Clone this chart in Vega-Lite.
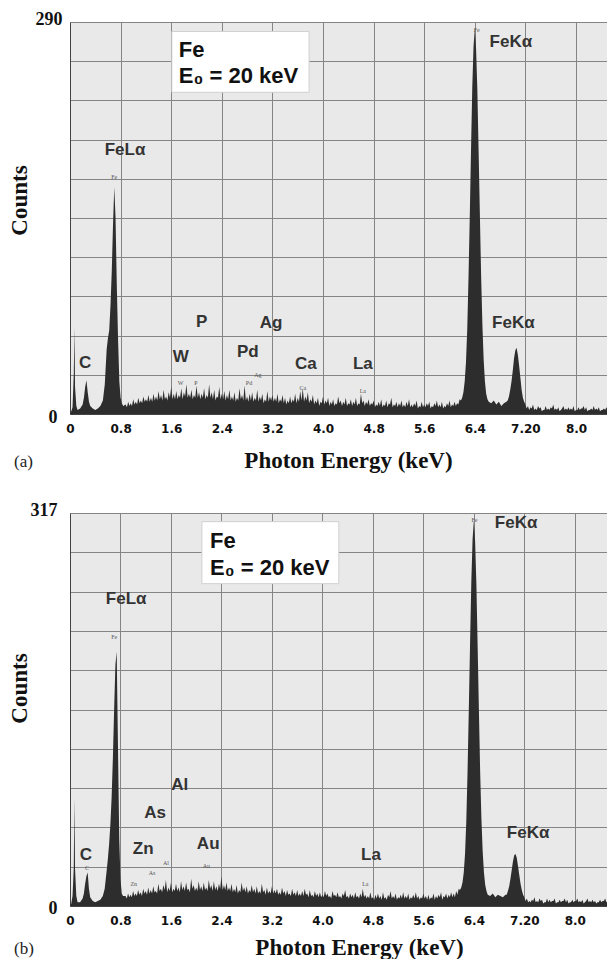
{
"$schema": "https://vega.github.io/schema/vega-lite/v6.json",
"padding": {"left": 8, "top": 10, "right": 0, "bottom": 0},
"bounds": "flush",
"spacing": 99,
"config": {"view": {"stroke": null, "fill": "#e9e9e9"}},
"datasets": {
"spec": [
{"e":0,"a":0,"b":0},{"e":0.02,"a":2,"b":2},{"e":0.04,"a":5,"b":8},{"e":0.06,"a":30,"b":31},{"e":0.07,"a":64,"b":87},{"e":0.08,"a":20,"b":30},{"e":0.10,"a":6,"b":8},{"e":0.12,"a":3,"b":3},{"e":0.16,"a":4,"b":3},{"e":0.20,"a":7,"b":6},{"e":0.22,"a":12,"b":10},{"e":0.24,"a":20,"b":18},{"e":0.26,"a":25,"b":24},{"e":0.28,"a":16,"b":27},{"e":0.30,"a":9,"b":14},{"e":0.32,"a":6,"b":7},{"e":0.36,"a":4,"b":4},{"e":0.40,"a":3,"b":3},{"e":0.44,"a":4,"b":4},{"e":0.48,"a":6,"b":5},{"e":0.52,"a":10,"b":8},{"e":0.55,"a":22,"b":14},{"e":0.58,"a":48,"b":28},{"e":0.60,"a":56,"b":38},{"e":0.62,"a":62,"b":50},{"e":0.64,"a":80,"b":66},{"e":0.66,"a":105,"b":88},{"e":0.68,"a":140,"b":120},{"e":0.70,"a":168,"b":160},{"e":0.72,"a":145,"b":195},{"e":0.74,"a":95,"b":205},{"e":0.76,"a":55,"b":130},{"e":0.78,"a":24,"b":55},{"e":0.80,"a":12,"b":22},{"e":0.82,"a":8,"b":10},{"e":0.84,"a":6,"b":8},
{"e":0.88,"a":7,"b":8},{"e":0.92,"a":9,"b":10},{"e":0.96,"a":8,"b":9},{"e":1.00,"a":11,"b":12},{"e":1.04,"a":9,"b":10},{"e":1.08,"a":12,"b":13},{"e":1.12,"a":10,"b":11},{"e":1.16,"a":13,"b":14},{"e":1.20,"a":11,"b":12},{"e":1.24,"a":14,"b":15},
{"e":1.28,"a":12,"b":13},{"e":1.32,"a":15,"b":16},{"e":1.36,"a":13,"b":12},{"e":1.40,"a":17,"b":18},{"e":1.44,"a":14,"b":14},{"e":1.48,"a":18,"b":17},{"e":1.52,"a":13,"b":21},{"e":1.56,"a":16,"b":15},{"e":1.60,"a":20,"b":19},{"e":1.64,"a":15,"b":14},
{"e":1.68,"a":17,"b":18},{"e":1.72,"a":14,"b":15},{"e":1.76,"a":19,"b":20},{"e":1.80,"a":16,"b":16},{"e":1.84,"a":22,"b":19},{"e":1.88,"a":15,"b":14},{"e":1.92,"a":18,"b":22},{"e":1.96,"a":14,"b":17},{"e":2.00,"a":21,"b":15},{"e":2.04,"a":16,"b":20},
{"e":2.08,"a":15,"b":16},{"e":2.12,"a":19,"b":19},{"e":2.16,"a":14,"b":15},{"e":2.20,"a":22,"b":21},{"e":2.24,"a":16,"b":17},{"e":2.28,"a":18,"b":20},{"e":2.32,"a":13,"b":16},{"e":2.36,"a":20,"b":18},{"e":2.40,"a":15,"b":24},{"e":2.44,"a":17,"b":17},
{"e":2.48,"a":14,"b":19},{"e":2.52,"a":18,"b":15},{"e":2.56,"a":13,"b":18},{"e":2.60,"a":16,"b":14},{"e":2.64,"a":12,"b":17},{"e":2.68,"a":19,"b":13},{"e":2.72,"a":14,"b":19},{"e":2.76,"a":21,"b":15},{"e":2.80,"a":13,"b":16},{"e":2.84,"a":15,"b":13},
{"e":2.88,"a":16,"b":17},{"e":2.92,"a":12,"b":14},{"e":2.96,"a":18,"b":16},{"e":3.00,"a":13,"b":12},{"e":3.04,"a":15,"b":18},{"e":3.08,"a":11,"b":13},{"e":3.12,"a":17,"b":15},{"e":3.16,"a":13,"b":12},{"e":3.20,"a":14,"b":16},{"e":3.24,"a":12,"b":13},
{"e":3.28,"a":15,"b":14},{"e":3.32,"a":11,"b":11},{"e":3.36,"a":14,"b":15},{"e":3.40,"a":12,"b":12},{"e":3.44,"a":10,"b":13},{"e":3.48,"a":13,"b":10},{"e":3.52,"a":11,"b":14},{"e":3.56,"a":15,"b":11},{"e":3.60,"a":12,"b":13},{"e":3.64,"a":17,"b":10},
{"e":3.68,"a":19,"b":12},{"e":3.72,"a":13,"b":14},{"e":3.76,"a":16,"b":10},{"e":3.80,"a":11,"b":13},{"e":3.84,"a":14,"b":9},{"e":3.88,"a":10,"b":12},{"e":3.92,"a":12,"b":10},{"e":3.96,"a":9,"b":11},{"e":4.00,"a":13,"b":9},{"e":4.04,"a":10,"b":12},
{"e":4.08,"a":12,"b":10},{"e":4.12,"a":9,"b":8},{"e":4.16,"a":11,"b":12},{"e":4.20,"a":8,"b":9},{"e":4.24,"a":13,"b":11},{"e":4.28,"a":10,"b":8},{"e":4.32,"a":9,"b":10},{"e":4.36,"a":12,"b":13},{"e":4.40,"a":8,"b":8},{"e":4.44,"a":11,"b":10},
{"e":4.48,"a":9,"b":9},{"e":4.52,"a":12,"b":11},{"e":4.56,"a":8,"b":8},{"e":4.60,"a":15,"b":10},{"e":4.64,"a":10,"b":14},{"e":4.68,"a":9,"b":9},{"e":4.72,"a":11,"b":8},{"e":4.76,"a":8,"b":11},{"e":4.80,"a":10,"b":7},{"e":4.84,"a":7,"b":9},
{"e":4.88,"a":9,"b":10},{"e":4.92,"a":11,"b":8},{"e":4.96,"a":7,"b":11},{"e":5.00,"a":10,"b":7},{"e":5.04,"a":8,"b":9},{"e":5.08,"a":12,"b":12},{"e":5.12,"a":7,"b":8},{"e":5.16,"a":9,"b":10},{"e":5.20,"a":8,"b":7},{"e":5.24,"a":10,"b":9},
{"e":5.28,"a":7,"b":11},{"e":5.32,"a":9,"b":8},{"e":5.36,"a":11,"b":10},{"e":5.40,"a":7,"b":7},{"e":5.44,"a":8,"b":9},{"e":5.48,"a":10,"b":11},{"e":5.52,"a":6,"b":8},{"e":5.56,"a":9,"b":7},{"e":5.60,"a":7,"b":10},{"e":5.64,"a":8,"b":8},
{"e":5.68,"a":9,"b":9},{"e":5.72,"a":6,"b":7},{"e":5.76,"a":8,"b":10},{"e":5.80,"a":10,"b":8},{"e":5.84,"a":7,"b":9},{"e":5.88,"a":9,"b":11},{"e":5.92,"a":6,"b":8},{"e":5.96,"a":8,"b":10},{"e":6.00,"a":10,"b":9},{"e":6.04,"a":7,"b":11},
{"e":6.08,"a":9,"b":10},{"e":6.12,"a":8,"b":12},{"e":6.16,"a":11,"b":14},
{"e":6.18,"a":10,"b":13},{"e":6.20,"a":12,"b":15},{"e":6.22,"a":16,"b":19},{"e":6.24,"a":24,"b":27},{"e":6.26,"a":38,"b":42},{"e":6.28,"a":62,"b":68},{"e":6.30,"a":100,"b":108},{"e":6.32,"a":145,"b":158},{"e":6.34,"a":195,"b":212},{"e":6.36,"a":242,"b":262},{"e":6.38,"a":272,"b":296},{"e":6.40,"a":285,"b":311},{"e":6.42,"a":270,"b":294},{"e":6.44,"a":240,"b":260},{"e":6.46,"a":195,"b":210},{"e":6.48,"a":148,"b":158},{"e":6.50,"a":102,"b":108},{"e":6.52,"a":66,"b":70},{"e":6.54,"a":40,"b":44},{"e":6.56,"a":24,"b":27},{"e":6.58,"a":15,"b":17},{"e":6.60,"a":11,"b":12},{"e":6.62,"a":9,"b":9},
{"e":6.66,"a":8,"b":8},{"e":6.70,"a":10,"b":10},{"e":6.74,"a":7,"b":7},{"e":6.78,"a":9,"b":9},{"e":6.82,"a":6,"b":8},{"e":6.86,"a":8,"b":7},{"e":6.90,"a":9,"b":9},
{"e":6.92,"a":10,"b":9},{"e":6.94,"a":13,"b":12},{"e":6.96,"a":18,"b":16},{"e":6.98,"a":24,"b":22},{"e":7.00,"a":32,"b":29},{"e":7.02,"a":41,"b":36},{"e":7.04,"a":47,"b":41},{"e":7.06,"a":49,"b":42},{"e":7.08,"a":44,"b":39},{"e":7.10,"a":36,"b":32},{"e":7.12,"a":27,"b":25},{"e":7.14,"a":18,"b":18},{"e":7.16,"a":12,"b":13},{"e":7.18,"a":9,"b":9},{"e":7.20,"a":7,"b":7},
{"e":7.24,"a":6,"b":6},{"e":7.28,"a":5,"b":4},{"e":7.32,"a":7,"b":5},{"e":7.36,"a":4,"b":7},{"e":7.40,"a":6,"b":4},{"e":7.44,"a":5,"b":6},{"e":7.48,"a":3,"b":5},{"e":7.52,"a":6,"b":3},{"e":7.56,"a":4,"b":6},{"e":7.60,"a":5,"b":5},{"e":7.64,"a":7,"b":4},{"e":7.68,"a":4,"b":6},{"e":7.72,"a":5,"b":3},{"e":7.76,"a":3,"b":5},{"e":7.80,"a":6,"b":4},{"e":7.84,"a":4,"b":6},{"e":7.88,"a":5,"b":5},{"e":7.92,"a":4,"b":3},{"e":7.96,"a":6,"b":5},{"e":8.00,"a":3,"b":4},{"e":8.04,"a":5,"b":6},{"e":8.08,"a":4,"b":4},{"e":8.12,"a":6,"b":5},{"e":8.16,"a":5,"b":3},{"e":8.20,"a":3,"b":6},{"e":8.24,"a":4,"b":4},{"e":8.28,"a":6,"b":5},{"e":8.32,"a":4,"b":4},{"e":8.36,"a":5,"b":3},{"e":8.40,"a":3,"b":5},{"e":8.44,"a":4,"b":4},{"e":8.48,"a":5,"b":6},{"e":8.52,"a":4,"b":4},{"e":8.56,"a":5,"b":5},
{"e":0.90,"a":5,"b":6},{"e":0.94,"a":6,"b":7},{"e":0.98,"a":6,"b":7},{"e":1.02,"a":7,"b":8},{"e":1.06,"a":7,"b":8},{"e":1.10,"a":8,"b":9},{"e":1.14,"a":8,"b":8},{"e":1.18,"a":9,"b":10},{"e":1.22,"a":9,"b":9},{"e":1.26,"a":9,"b":10},
{"e":1.30,"a":9,"b":10},{"e":1.34,"a":10,"b":11},{"e":1.38,"a":10,"b":10},{"e":1.42,"a":11,"b":12},{"e":1.46,"a":10,"b":11},{"e":1.50,"a":11,"b":13},{"e":1.54,"a":10,"b":11},{"e":1.58,"a":12,"b":12},{"e":1.62,"a":11,"b":11},{"e":1.66,"a":11,"b":12},
{"e":1.70,"a":11,"b":12},{"e":1.74,"a":12,"b":11},{"e":1.78,"a":11,"b":13},{"e":1.82,"a":13,"b":12},{"e":1.86,"a":12,"b":13},{"e":1.90,"a":12,"b":11},{"e":1.94,"a":11,"b":14},{"e":1.98,"a":12,"b":12},{"e":2.02,"a":12,"b":12},{"e":2.06,"a":11,"b":13},
{"e":2.10,"a":12,"b":12},{"e":2.14,"a":11,"b":13},{"e":2.18,"a":12,"b":12},{"e":2.22,"a":12,"b":14},{"e":2.26,"a":11,"b":12},{"e":2.30,"a":10,"b":13},{"e":2.34,"a":12,"b":12},{"e":2.38,"a":11,"b":14},{"e":2.42,"a":11,"b":13},{"e":2.46,"a":10,"b":13},
{"e":2.50,"a":11,"b":12},{"e":2.54,"a":10,"b":12},{"e":2.58,"a":10,"b":11},{"e":2.62,"a":9,"b":11},{"e":2.66,"a":10,"b":10},{"e":2.70,"a":11,"b":11},{"e":2.74,"a":10,"b":12},{"e":2.78,"a":10,"b":11},{"e":2.82,"a":9,"b":10},{"e":2.86,"a":10,"b":11},
{"e":2.90,"a":9,"b":11},{"e":2.94,"a":10,"b":10},{"e":2.98,"a":9,"b":10},{"e":3.02,"a":10,"b":10},{"e":3.06,"a":8,"b":11},{"e":3.10,"a":9,"b":9},{"e":3.14,"a":9,"b":10},{"e":3.18,"a":10,"b":10},{"e":3.22,"a":9,"b":10},{"e":3.26,"a":9,"b":10},
{"e":3.30,"a":8,"b":9},{"e":3.34,"a":9,"b":9},{"e":3.38,"a":8,"b":10},{"e":3.42,"a":7,"b":8},{"e":3.46,"a":8,"b":9},{"e":3.50,"a":8,"b":8},{"e":3.54,"a":9,"b":9},{"e":3.58,"a":8,"b":8},{"e":3.62,"a":9,"b":8},{"e":3.66,"a":10,"b":8},
{"e":3.70,"a":9,"b":8},{"e":3.74,"a":10,"b":9},{"e":3.78,"a":8,"b":7},{"e":3.82,"a":9,"b":8},{"e":3.86,"a":7,"b":7},{"e":3.90,"a":8,"b":8},{"e":3.94,"a":6,"b":7},{"e":3.98,"a":8,"b":7},{"e":4.02,"a":7,"b":7},{"e":4.06,"a":8,"b":8},
{"e":4.10,"a":6,"b":7},{"e":4.14,"a":7,"b":6},{"e":4.18,"a":6,"b":8},{"e":4.22,"a":7,"b":7},{"e":4.26,"a":8,"b":7},{"e":4.30,"a":6,"b":6},{"e":4.34,"a":7,"b":8},{"e":4.38,"a":6,"b":7},{"e":4.42,"a":7,"b":6},{"e":4.46,"a":6,"b":7},
{"e":4.50,"a":7,"b":6},{"e":4.54,"a":6,"b":7},{"e":4.58,"a":7,"b":6},{"e":4.62,"a":8,"b":7},{"e":4.66,"a":6,"b":7},{"e":4.70,"a":7,"b":6},{"e":4.74,"a":6,"b":6},{"e":4.78,"a":7,"b":6},{"e":4.82,"a":5,"b":5},{"e":4.86,"a":6,"b":6},
{"e":4.90,"a":6,"b":6},{"e":4.94,"a":5,"b":5},{"e":4.98,"a":6,"b":6},{"e":5.02,"a":5,"b":5},{"e":5.06,"a":7,"b":7},{"e":5.10,"a":5,"b":6},{"e":5.14,"a":6,"b":6},{"e":5.18,"a":5,"b":5},{"e":5.22,"a":6,"b":6},{"e":5.26,"a":5,"b":6},
{"e":5.30,"a":5,"b":6},{"e":5.34,"a":6,"b":6},{"e":5.38,"a":5,"b":5},{"e":5.42,"a":5,"b":6},{"e":5.46,"a":6,"b":6},{"e":5.50,"a":4,"b":6},{"e":5.54,"a":5,"b":5},{"e":5.58,"a":5,"b":6},{"e":5.62,"a":5,"b":6},{"e":5.66,"a":6,"b":5},
{"e":5.70,"a":4,"b":5},{"e":5.74,"a":5,"b":6},{"e":5.78,"a":6,"b":5},{"e":5.82,"a":5,"b":6},{"e":5.86,"a":5,"b":7},{"e":5.90,"a":4,"b":5},{"e":5.94,"a":5,"b":7},{"e":5.98,"a":6,"b":6},{"e":6.02,"a":5,"b":7},{"e":6.06,"a":6,"b":7},
{"e":6.10,"a":6,"b":7},{"e":6.14,"a":7,"b":9},
{"e":7.22,"a":4,"b":4},{"e":7.26,"a":3,"b":3},{"e":7.30,"a":4,"b":3},{"e":7.34,"a":3,"b":4},{"e":7.38,"a":3,"b":3},{"e":7.42,"a":4,"b":3},{"e":7.46,"a":2,"b":4},{"e":7.50,"a":3,"b":2},{"e":7.54,"a":3,"b":3},{"e":7.58,"a":3,"b":3},{"e":7.62,"a":4,"b":3},{"e":7.66,"a":3,"b":4},{"e":7.70,"a":3,"b":2},{"e":7.74,"a":2,"b":3},{"e":7.78,"a":4,"b":3},{"e":7.82,"a":3,"b":4},{"e":7.86,"a":3,"b":3},{"e":7.90,"a":3,"b":2},{"e":7.94,"a":3,"b":3},{"e":7.98,"a":2,"b":3},{"e":8.02,"a":3,"b":4},{"e":8.06,"a":3,"b":3},{"e":8.10,"a":4,"b":3},{"e":8.14,"a":3,"b":2},{"e":8.18,"a":2,"b":4},{"e":8.22,"a":3,"b":3},{"e":8.26,"a":3,"b":3},{"e":8.30,"a":3,"b":3},{"e":8.34,"a":3,"b":2},{"e":8.38,"a":2,"b":3},{"e":8.42,"a":3,"b":3},{"e":8.46,"a":3,"b":4},{"e":8.50,"a":3,"b":3},{"e":8.54,"a":3,"b":3}
],
"boxes": [
{"p":"a","e1":1.61,"e2":3.78,"c1":238,"c2":283},
{"p":"b","e1":2.09,"e2":4.26,"c1":260,"c2":310}
],
"labels": [
{"p":"a","k":"peak","t":"FeLα","e":0.87,"c":195},
{"p":"a","k":"peak","t":"FeKα","e":6.97,"c":275},
{"p":"a","k":"peak","t":"C","e":0.24,"c":38},
{"p":"a","k":"peak","t":"W","e":1.75,"c":42},
{"p":"a","k":"peak","t":"P","e":2.08,"c":68},
{"p":"a","k":"peak","t":"Pd","e":2.81,"c":46},
{"p":"a","k":"peak","t":"Ag","e":3.18,"c":67},
{"p":"a","k":"peak","t":"Ca","e":3.73,"c":37},
{"p":"a","k":"peak","t":"La","e":4.63,"c":37},
{"p":"a","k":"peak","t":"FeKα","e":7.01,"c":67},
{"p":"a","k":"box","t":"Fe","e":1.72,"c":264},
{"p":"a","k":"box","t":"E₀ = 20 keV","e":1.72,"c":245},
{"p":"a","k":"tiny","t":"Fe","e":0.70,"c":175},
{"p":"a","k":"tiny","t":"Fe","e":6.43,"c":284},
{"p":"a","k":"tiny","t":"W","e":1.75,"c":23},
{"p":"a","k":"tiny","t":"P","e":1.99,"c":23},
{"p":"a","k":"tiny","t":"Pd","e":2.83,"c":23},
{"p":"a","k":"tiny","t":"Ag","e":2.97,"c":29},
{"p":"a","k":"tiny","t":"Ca","e":3.68,"c":19},
{"p":"a","k":"tiny","t":"La","e":4.63,"c":17},
{"p":"b","k":"peak","t":"FeLα","e":0.89,"c":248},
{"p":"b","k":"peak","t":"FeKα","e":7.07,"c":309},
{"p":"b","k":"peak","t":"C","e":0.25,"c":41},
{"p":"b","k":"peak","t":"Zn","e":1.16,"c":46},
{"p":"b","k":"peak","t":"As","e":1.35,"c":75},
{"p":"b","k":"peak","t":"Al","e":1.74,"c":98},
{"p":"b","k":"peak","t":"Au","e":2.19,"c":50},
{"p":"b","k":"peak","t":"La","e":4.77,"c":41},
{"p":"b","k":"peak","t":"FeKα","e":7.26,"c":59},
{"p":"b","k":"box","t":"Fe","e":2.22,"c":289},
{"p":"b","k":"box","t":"E₀ = 20 keV","e":2.22,"c":267},
{"p":"b","k":"tiny","t":"Fe","e":0.70,"c":217},
{"p":"b","k":"tiny","t":"Fe","e":6.41,"c":311},
{"p":"b","k":"tiny","t":"C","e":0.27,"c":31},
{"p":"b","k":"tiny","t":"Zn","e":1.01,"c":18},
{"p":"b","k":"tiny","t":"As","e":1.30,"c":27},
{"p":"b","k":"tiny","t":"Al","e":1.52,"c":35},
{"p":"b","k":"tiny","t":"Au","e":2.16,"c":32},
{"p":"b","k":"tiny","t":"La","e":4.68,"c":18}
]
},
"vconcat": [
{
"width": 537, "height": 392,
"title": {"text": "(a)", "orient": "bottom", "anchor": "start", "frame": "group", "font": "Liberation Serif", "fontSize": 17, "fontWeight": "normal", "color": "#222", "dx": -56, "offset": -10, "baseline": "middle"},
"resolve": {"axis": {"x": "independent", "y": "independent"}},
"layer": [
{"data": {"name": "spec"},
 "mark": {"type": "area", "color": "#2d2d2d", "clip": true, "interpolate": "linear"},
 "encoding": {
  "x": {"field": "e", "type": "quantitative", "scale": {"domain": [0, 8.49], "nice": false, "zero": false},
   "axis": {"values": [0,0.8,1.6,2.4,3.2,4.0,4.8,5.6,6.4,7.2,8.0], "labelExpr": "abs(datum.value-7.2)<0.01 ? '7.20' : (datum.value==0 ? '0' : format(datum.value,'.1f'))", "labelFont": "DejaVu Sans", "labelFontWeight": "bold", "labelFontSize": 12, "labelColor": "#111", "labelPadding": 9, "labelFlush": false, "ticks": false, "domain": true, "domainColor": "#444", "grid": true, "gridColor": "#858585", "gridOpacity": 1, "gridWidth": 1, "title": "Photon Energy (keV)", "titleFont": "Liberation Serif", "titleFontSize": 23, "titleFontWeight": "bold", "titleColor": "#111", "titleX": 278, "titleY": 46, "titleBaseline": "middle", "titleAlign": "center"}},
  "y": {"field": "a", "type": "quantitative", "scale": {"domain": [0, 290], "nice": false},
   "axis": {"values": [0,29,58,87,116,145,174,203,232,261,290], "labelExpr": "datum.value==0 || datum.value==290 ? datum.label : ''", "labelFont": "Liberation Serif", "labelFontWeight": "bold", "labelFontSize": 18, "labelColor": "#111", "labelPadding": {"condition": {"test": "datum.value == 0", "value": 13}, "value": 8}, "labelOffset": {"condition": {"test": "datum.value == 0", "value": 3}, "value": -3}, "ticks": false, "domain": true, "domainColor": "#444", "grid": true, "gridColor": "#858585", "gridOpacity": 1, "gridWidth": 1, "title": "Counts", "titleFont": "Liberation Serif", "titleFontSize": 23, "titleFontWeight": "bold", "titleColor": "#111", "titleAngle": -90, "titleX": -51, "titleY": 178, "titleBaseline": "middle", "titleAlign": "center"}}
 }},
{"data": {"name": "boxes"}, "transform": [{"filter": "datum.p == 'a'"}],
 "mark": {"type": "rect", "fill": "white", "stroke": "#d0d0d0", "strokeWidth": 1},
 "encoding": {"x": {"field": "e1", "type": "quantitative", "axis": null}, "x2": {"field": "e2"}, "y": {"field": "c1", "type": "quantitative", "axis": null}, "y2": {"field": "c2"}}},
{"data": {"name": "labels"}, "transform": [{"filter": "datum.p == 'a' && datum.k == 'peak'"}],
 "mark": {"type": "text", "font": "Liberation Sans", "fontWeight": "bold", "fontSize": 17, "color": "#333", "align": "center", "baseline": "middle"},
 "encoding": {"x": {"field": "e", "type": "quantitative", "axis": null}, "y": {"field": "c", "type": "quantitative", "axis": null}, "text": {"field": "t"}}},
{"data": {"name": "labels"}, "transform": [{"filter": "datum.p == 'a' && datum.k == 'box'"}],
 "mark": {"type": "text", "font": "Liberation Sans", "fontWeight": "bold", "fontSize": 22, "color": "#111", "align": "left", "baseline": "alphabetic"},
 "encoding": {"x": {"field": "e", "type": "quantitative", "axis": null}, "y": {"field": "c", "type": "quantitative", "axis": null}, "text": {"field": "t"}}},
{"data": {"name": "labels"}, "transform": [{"filter": "datum.p == 'a' && datum.k == 'tiny'"}],
 "mark": {"type": "text", "font": "Liberation Serif", "fontSize": 6, "color": "#555", "align": "center", "baseline": "middle"},
 "encoding": {"x": {"field": "e", "type": "quantitative", "axis": null}, "y": {"field": "c", "type": "quantitative", "axis": null}, "text": {"field": "t"}}}
]
},
{
"width": 537, "height": 393,
"title": {"text": "(b)", "orient": "bottom", "anchor": "start", "frame": "group", "font": "Liberation Serif", "fontSize": 17, "fontWeight": "normal", "color": "#222", "dx": -56, "offset": -10, "baseline": "middle"},
"resolve": {"axis": {"x": "independent", "y": "independent"}},
"layer": [
{"data": {"name": "spec"},
 "mark": {"type": "area", "color": "#2d2d2d", "clip": true, "interpolate": "linear"},
 "encoding": {
  "x": {"field": "e", "type": "quantitative", "scale": {"domain": [0, 8.51], "nice": false, "zero": false},
   "axis": {"values": [0,0.8,1.6,2.4,3.2,4.0,4.8,5.6,6.4,7.2,8.0], "labelExpr": "abs(datum.value-7.2)<0.01 ? '7.20' : (datum.value==0 ? '0' : format(datum.value,'.1f'))", "labelFont": "DejaVu Sans", "labelFontWeight": "bold", "labelFontSize": 12, "labelColor": "#111", "labelPadding": 9, "labelFlush": false, "ticks": false, "domain": true, "domainColor": "#444", "grid": true, "gridColor": "#858585", "gridOpacity": 1, "gridWidth": 1, "title": "Photon Energy (keV)", "titleFont": "Liberation Serif", "titleFontSize": 23, "titleFontWeight": "bold", "titleColor": "#111", "titleX": 289, "titleY": 41, "titleBaseline": "middle", "titleAlign": "center"}},
  "y": {"field": "b", "type": "quantitative", "scale": {"domain": [0, 317], "nice": false},
   "axis": {"values": [0,31.7,63.4,95.1,126.8,158.5,190.2,221.9,253.6,285.3,317], "labelExpr": "datum.value==0 || datum.value==317 ? datum.label : ''", "labelFont": "Liberation Serif", "labelFontWeight": "bold", "labelFontSize": 18, "labelColor": "#111", "labelPadding": 13, "labelOffset": {"condition": {"test": "datum.value == 0", "value": 2}, "value": -3}, "ticks": false, "domain": true, "domainColor": "#444", "grid": true, "gridColor": "#858585", "gridOpacity": 1, "gridWidth": 1, "title": "Counts", "titleFont": "Liberation Serif", "titleFontSize": 23, "titleFontWeight": "bold", "titleColor": "#111", "titleAngle": -90, "titleX": -51, "titleY": 175, "titleBaseline": "middle", "titleAlign": "center"}}
 }},
{"data": {"name": "boxes"}, "transform": [{"filter": "datum.p == 'b'"}],
 "mark": {"type": "rect", "fill": "white", "stroke": "#d0d0d0", "strokeWidth": 1},
 "encoding": {"x": {"field": "e1", "type": "quantitative", "axis": null}, "x2": {"field": "e2"}, "y": {"field": "c1", "type": "quantitative", "axis": null}, "y2": {"field": "c2"}}},
{"data": {"name": "labels"}, "transform": [{"filter": "datum.p == 'b' && datum.k == 'peak'"}],
 "mark": {"type": "text", "font": "Liberation Sans", "fontWeight": "bold", "fontSize": 17, "color": "#333", "align": "center", "baseline": "middle"},
 "encoding": {"x": {"field": "e", "type": "quantitative", "axis": null}, "y": {"field": "c", "type": "quantitative", "axis": null}, "text": {"field": "t"}}},
{"data": {"name": "labels"}, "transform": [{"filter": "datum.p == 'b' && datum.k == 'box'"}],
 "mark": {"type": "text", "font": "Liberation Sans", "fontWeight": "bold", "fontSize": 22, "color": "#111", "align": "left", "baseline": "alphabetic"},
 "encoding": {"x": {"field": "e", "type": "quantitative", "axis": null}, "y": {"field": "c", "type": "quantitative", "axis": null}, "text": {"field": "t"}}},
{"data": {"name": "labels"}, "transform": [{"filter": "datum.p == 'b' && datum.k == 'tiny'"}],
 "mark": {"type": "text", "font": "Liberation Serif", "fontSize": 6, "color": "#555", "align": "center", "baseline": "middle"},
 "encoding": {"x": {"field": "e", "type": "quantitative", "axis": null}, "y": {"field": "c", "type": "quantitative", "axis": null}, "text": {"field": "t"}}}
]
}
]
}
